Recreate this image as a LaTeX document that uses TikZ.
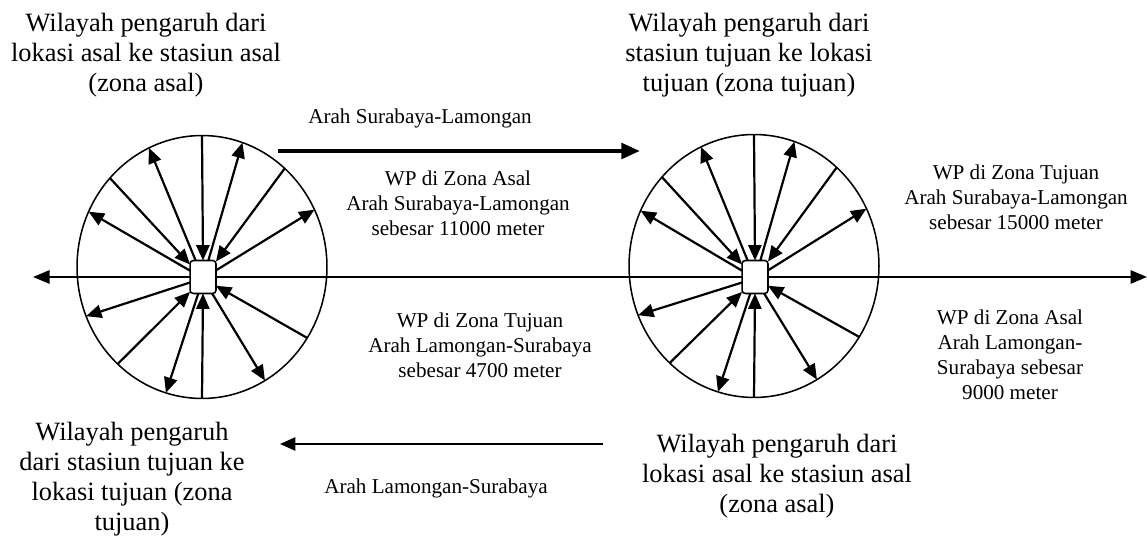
\documentclass[tikz,border=0pt]{standalone}
\usepackage{fontspec}
\setmainfont{Liberation Serif}
\usetikzlibrary{shapes.geometric,arrows.meta}

\begin{document}
\begin{tikzpicture}[
	x=0.4545pt, y=-0.4545pt,
	zone/.style={draw, ellipse, line width=0.7pt, minimum width=113.6pt, minimum height=119.5pt, inner sep=0pt, outer sep=0pt},
	hub/.style={draw, fill=white, rounded corners=1.5pt, line width=0.7pt, minimum width=11.8pt, minimum height=15pt, inner sep=0pt, outer sep=0pt},
	spoke/.style={line width=1pt, ->, >={Triangle[length=7pt,width=6pt]}},
	axis/.style={line width=1pt, >={Triangle[length=7.5pt,width=6pt]}},
	big label/.style={align=center, font=\fontsize{12}{13.6}\selectfont, inner sep=0pt},
	small label/.style={align=center, font=\fontsize{9.6}{11.4}\selectfont, inner sep=0pt}
	]
	\useasboundingbox (0,0) rectangle (1147,537);

	\node[zone] (circL) at (202,267) {};
	\node[zone] (circR) at (754,266) {};
	\node[hub] (hubL) at (203,277) {};
	\node[hub] (hubR) at (755,277) {};
	\coordinate (axisW) at (33,277);
	\coordinate (axisE) at (1147,277);

	\draw[axis,<-] (axisW) -- (hubL);
	\draw[axis] (hubL) -- (hubR);
	\draw[axis,->] (hubR) -- (axisE);

	\foreach \zone in {L,R}{
		\foreach \a in {90,50,326,270,229,136}
			\draw[spoke] (circ\zone.\a) -- (hub\zone.\a);
		\foreach \a in {72,27,299,254,203,154,114}
			\draw[spoke] (hub\zone.\a) -- (circ\zone.\a);
	}

	\coordinate (srbW) at (278,151);
	\coordinate (srbE) at (640,151);
	\draw[line width=1.9pt, -{Triangle[length=8.5pt,width=7pt]}] (srbW) -- (srbE);
	\coordinate (lmgE) at (603,444);
	\coordinate (lmgW) at (280,444);
	\draw[axis, -{Triangle[length=7pt,width=6pt]}] (lmgE) -- (lmgW);

	\node[big label] (asalL) at (146,55) {Wilayah pengaruh dari\\lokasi asal ke stasiun asal\\(zona asal)};
	\node[big label] (tujuanR) at (749,55) {Wilayah pengaruh dari\\stasiun tujuan ke lokasi\\tujuan (zona tujuan)};
	\node[big label] (tujuanL) at (132,479) {Wilayah pengaruh\\dari stasiun tujuan ke\\lokasi tujuan (zona\\tujuan)};
	\node[big label] (asalR) at (777,476) {Wilayah pengaruh dari\\lokasi asal ke stasiun asal\\(zona asal)};

	\node[small label] (arahSL) at (420,118) {Arah Surabaya-Lamongan};
	\node[small label] (wpAsalSL) at (458,203) {WP di Zona Asal\\Arah Surabaya-Lamongan\\sebesar 11000 meter};
	\node[small label] (wpTujuanSL) at (1016,197) {WP di Zona Tujuan\\Arah Surabaya-Lamongan\\sebesar 15000 meter};
	\node[small label] (wpTujuanLS) at (480,345) {WP di Zona Tujuan\\Arah Lamongan-Surabaya\\sebesar 4700 meter};
	\node[small label] (wpAsalLS) at (1010,355) {WP di Zona Asal\\Arah Lamongan-\\Surabaya sebesar\\9000 meter};
	\node[small label] (arahLS) at (436,488) {Arah Lamongan-Surabaya};
\end{tikzpicture}
\end{document}
